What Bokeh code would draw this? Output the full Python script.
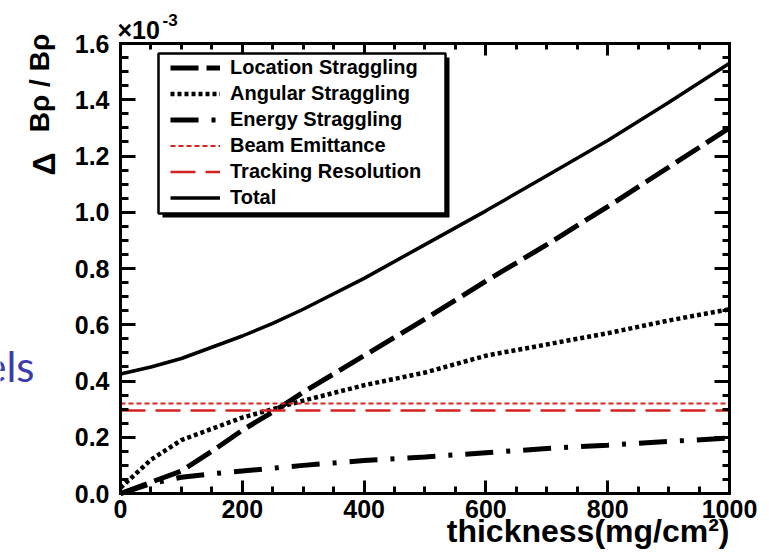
import numpy as np
from bokeh.plotting import figure
from bokeh.models import (LinearAxis, FixedTicker, PrintfTickFormatter, Legend,
                          LegendItem, BoxAnnotation, Label, Range1d)
from bokeh.embed import file_html
from bokeh.resources import INLINE

# Contributions to the momentum resolution (units of 1e-3) versus target thickness
thickness = [0, 50, 100, 150, 200, 250, 300, 400, 500, 600, 700, 800, 900, 1000]
location_straggling = [0.0, 0.04, 0.08, 0.15, 0.225, 0.29, 0.36, 0.49, 0.62, 0.755, 0.885, 1.02, 1.16, 1.30]
angular_straggling = [0.02, 0.12, 0.19, 0.23, 0.27, 0.30, 0.33, 0.385, 0.43, 0.49, 0.53, 0.57, 0.615, 0.655]
energy_straggling = [0.0, 0.035, 0.058, 0.07, 0.08, 0.09, 0.10, 0.117, 0.13, 0.145, 0.16, 0.172, 0.185, 0.197]
total = [0.425, 0.45, 0.48, 0.52, 0.56, 0.605, 0.655, 0.765, 0.885, 1.005, 1.13, 1.255, 1.39, 1.53]

# Thickness-independent terms
flat_span = [0, 1000]
beam_emittance = [0.32, 0.32]
tracking_resolution = [0.295, 0.295]

x_major = [0, 200, 400, 600, 800, 1000]
y_major = [0.0, 0.2, 0.4, 0.6, 0.8, 1.0, 1.2, 1.4, 1.6]

FONT = "Liberation Sans"
RED = "#d42222"

# The frame spans the whole canvas; the axes sit at fixed data positions so
# that titles around the data box can be placed in data coordinates.
p = figure(width=769, height=560,
           x_range=Range1d(-197.04, 1065.68), y_range=Range1d(-0.2382, 1.7529),
           output_backend="svg", toolbar_location=None,
           min_border_left=0, min_border_right=0, min_border_top=0, min_border_bottom=0)
p.min_border = 0
p.xgrid.visible = False
p.ygrid.visible = False
p.outline_line_color = None
p.background_fill_color = "white"
p.border_fill_color = "white"

x_minor = [v for a, b in zip(x_major[:-1], x_major[1:]) for v in np.linspace(a, b, 5)[1:-1]]
y_minor = [v for a, b in zip(y_major[:-1], y_major[1:]) for v in np.linspace(a, b, 5)[1:-1]]
x_ticker = FixedTicker(ticks=x_major, minor_ticks=x_minor)
y_ticker = FixedTicker(ticks=y_major, minor_ticks=y_minor)


def style_axis(ax, major_len, minor_len):
    ax.axis_line_width = 3
    ax.axis_line_color = "black"
    ax.axis_line_cap = "square"
    ax.major_tick_in = major_len
    ax.major_tick_out = 0
    ax.minor_tick_in = minor_len
    ax.minor_tick_out = 0
    ax.major_tick_line_width = 3
    ax.minor_tick_line_width = 3
    ax.major_label_text_font = FONT
    ax.major_label_text_font_style = "bold"
    ax.major_label_text_font_size = "25px"
    ax.major_label_text_color = "black"


xa = p.xaxis[0]
xa.ticker = x_ticker
xa.fixed_location = 0
xa.bounds = (0, 1000)
style_axis(xa, 13, 7)
xa.major_label_standoff = 6

ya = p.yaxis[0]
ya.ticker = y_ticker
ya.formatter = PrintfTickFormatter(format="%.1f")
ya.fixed_location = 0
ya.bounds = (0, 1.6)
style_axis(ya, 15, 8)
ya.major_label_standoff = 11

# Mirror ticks on the top and right edges of the data box
top_axis = LinearAxis(ticker=x_ticker, fixed_location=1.6, bounds=(0, 1000))
style_axis(top_axis, 12, 6)
top_axis.major_label_text_font_size = "0px"
top_axis.major_label_standoff = 0
p.add_layout(top_axis, "above")

right_axis = LinearAxis(ticker=y_ticker, fixed_location=1000, bounds=(0, 1.6))
style_axis(right_axis, 15, 7)
right_axis.major_label_text_font_size = "0px"
right_axis.major_label_standoff = 0
p.add_layout(right_axis, "right")

# Curves
r_loc = p.line(thickness, location_straggling, line_color="black", line_width=5, line_dash="28 8")
r_ang = p.line(thickness, angular_straggling, line_color="black", line_width=4.5, line_dash="4 3")
r_en = p.line(thickness, energy_straggling, line_color="black", line_width=5, line_dash="28 13 4 13")
r_beam = p.line(flat_span, beam_emittance, line_color=RED, line_width=2, line_dash="5 3")
r_trk = p.line(flat_span, tracking_resolution, line_color=RED, line_width=2.5, line_dash="25 10")
r_tot = p.line(thickness, total, line_color="black", line_width=3.5)

# Legend frame with drop shadow
p.add_layout(BoxAnnotation(left=69.0, right=540.2, bottom=0.981, top=1.550,
                           fill_color="black", fill_alpha=1, line_alpha=0))
p.add_layout(BoxAnnotation(left=62.4, right=533.7, bottom=0.9956, top=1.5644,
                           fill_color="white", fill_alpha=1, line_color="black",
                           line_alpha=1, line_width=2.5))

legend = Legend(items=[
    LegendItem(label="Location Straggling", renderers=[r_loc]),
    LegendItem(label="Angular Straggling", renderers=[r_ang]),
    LegendItem(label="Energy Straggling", renderers=[r_en]),
    LegendItem(label="Beam Emittance", renderers=[r_beam]),
    LegendItem(label="Tracking Resolution", renderers=[r_trk]),
    LegendItem(label="Total", renderers=[r_tot]),
], location=(170, 351), padding=0, margin=0, spacing=3,
    glyph_width=50, glyph_height=23, label_height=23, label_standoff=10,
    label_text_font=FONT, label_text_font_style="bold", label_text_font_size="20px",
    label_text_color="black", border_line_alpha=0, background_fill_alpha=0)
p.add_layout(legend, "center")

# Axis titles and exponent marker (anchored at the middle of each text line)
p.add_layout(Label(x=-125.6, y=1.1307, text="Δ", angle=np.pi / 2, text_align="left",
                   text_baseline="middle", text_font=FONT, text_font_style="bold",
                   text_font_size="32px", text_color="black"))
p.add_layout(Label(x=-133.0, y=1.4596, text="Bρ / Bρ", angle=np.pi / 2, text_align="center",
                   text_baseline="middle", text_font=FONT, text_font_style="bold",
                   text_font_size="28px", text_color="black"))
p.add_layout(Label(x=1000, y=-0.132, text="thickness(mg/cm²)", text_align="right",
                   text_baseline="middle", text_font=FONT, text_font_style="bold",
                   text_font_size="32px", text_color="black"))
p.add_layout(Label(x=-4.9, y=1.6487, text="×10", text_align="left",
                   text_baseline="middle", text_font=FONT, text_font_style="bold",
                   text_font_size="25px", text_color="black"))
p.add_layout(Label(x=69.0, y=1.6825, text="-3", text_align="left",
                   text_baseline="middle", text_font=FONT, text_font_style="bold",
                   text_font_size="17px", text_color="black"))

# Fragment of slide text at the left margin
p.add_layout(Label(x=-141.2, y=0.4516, text="els", text_align="right",
                   text_baseline="middle", text_font="Lato",
                   text_font_size="42px", text_color="#3c3caa"))

open("out.html", "w").write(file_html(p, INLINE))
